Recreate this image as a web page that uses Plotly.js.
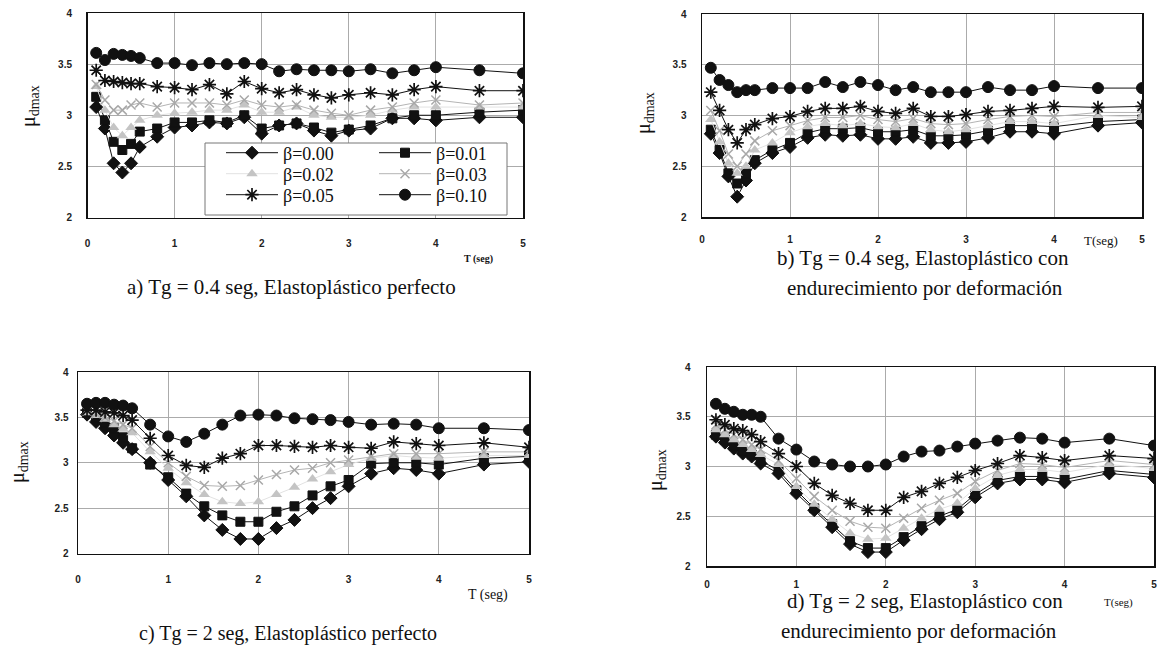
<!DOCTYPE html>
<html>
<head>
<meta charset="utf-8">
<script src="https://cdn.plot.ly/plotly-3.0.1.min.js"></script>
<style>html,body{margin:0;padding:0;background:#fff;}#chart{width:1161px;height:647px;}</style>
</head>
<body>
<div id="chart"></div>
<script>
// ---------------- DATA ----------------
const T = [0.1, 0.2, 0.3, 0.4, 0.5, 0.6, 0.8, 1.0, 1.2, 1.4, 1.6, 1.8, 2.0, 2.2, 2.4, 2.6, 2.8, 3.0, 3.25, 3.5, 3.75, 4.0, 4.5, 5.0];
const betaLabels = ["β=0.00", "β=0.01", "β=0.02", "β=0.03", "β=0.05", "β=0.10"];
const xTicks = [0, 1, 2, 3, 4, 5];
const yTicks = [2, 2.5, 3, 3.5, 4];

// a) Tg = 0.4 s, elastoplástico perfecto
const a_b000 = [3.08, 2.87, 2.53, 2.44, 2.53, 2.69, 2.79, 2.88, 2.90, 2.93, 2.92, 2.98, 2.82, 2.90, 2.92, 2.85, 2.80, 2.85, 2.87, 2.97, 2.97, 2.95, 2.98, 2.98];
const a_b001 = [3.18, 2.95, 2.74, 2.66, 2.72, 2.84, 2.87, 2.93, 2.93, 2.95, 2.93, 3.00, 2.87, 2.90, 2.92, 2.88, 2.83, 2.86, 2.90, 2.97, 3.00, 3.00, 3.03, 3.05];
const a_b002 = [3.28, 3.05, 2.88, 2.80, 2.88, 2.95, 3.00, 3.02, 3.03, 3.05, 3.05, 3.10, 3.03, 3.03, 3.08, 3.00, 2.98, 2.98, 3.00, 3.05, 3.08, 3.08, 3.08, 3.08];
const a_b003 = [3.30, 3.15, 3.05, 3.05, 3.10, 3.12, 3.08, 3.12, 3.12, 3.12, 3.10, 3.15, 3.10, 3.08, 3.10, 3.05, 3.02, 3.00, 3.05, 3.08, 3.12, 3.15, 3.10, 3.12];
const a_b005 = [3.44, 3.34, 3.33, 3.32, 3.31, 3.31, 3.28, 3.27, 3.25, 3.30, 3.21, 3.33, 3.26, 3.22, 3.25, 3.20, 3.17, 3.20, 3.22, 3.20, 3.25, 3.28, 3.24, 3.24];
const a_b010 = [3.61, 3.54, 3.60, 3.59, 3.58, 3.56, 3.51, 3.51, 3.49, 3.51, 3.50, 3.51, 3.50, 3.43, 3.45, 3.44, 3.44, 3.43, 3.45, 3.41, 3.44, 3.47, 3.44, 3.41];

// b) Tg = 0.4 s, con endurecimiento
const b_b000 = [2.82, 2.63, 2.40, 2.20, 2.36, 2.53, 2.63, 2.69, 2.78, 2.81, 2.80, 2.81, 2.77, 2.77, 2.79, 2.73, 2.73, 2.74, 2.78, 2.84, 2.84, 2.82, 2.90, 2.93];
const b_b001 = [2.86, 2.66, 2.43, 2.33, 2.43, 2.56, 2.66, 2.73, 2.83, 2.87, 2.87, 2.88, 2.84, 2.84, 2.86, 2.80, 2.80, 2.81, 2.85, 2.90, 2.90, 2.89, 2.94, 2.96];
const b_b002 = [2.96, 2.74, 2.53, 2.43, 2.50, 2.66, 2.73, 2.83, 2.89, 2.92, 2.90, 2.92, 2.89, 2.88, 2.92, 2.86, 2.84, 2.86, 2.90, 2.94, 2.94, 2.92, 3.00, 2.98];
const b_b003 = [3.05, 2.85, 2.62, 2.50, 2.62, 2.75, 2.85, 2.90, 2.95, 2.98, 2.98, 3.00, 2.96, 2.94, 2.97, 2.92, 2.91, 2.92, 2.96, 2.99, 3.00, 2.99, 3.03, 3.03];
const b_b005 = [3.23, 3.05, 2.86, 2.73, 2.86, 2.91, 2.97, 2.99, 3.04, 3.07, 3.07, 3.09, 3.04, 3.02, 3.07, 2.99, 2.99, 3.01, 3.04, 3.05, 3.07, 3.09, 3.08, 3.09];
const b_b010 = [3.47, 3.35, 3.30, 3.23, 3.25, 3.25, 3.27, 3.27, 3.27, 3.33, 3.28, 3.33, 3.30, 3.25, 3.28, 3.23, 3.23, 3.23, 3.28, 3.25, 3.25, 3.29, 3.27, 3.27];

// c) Tg = 2 s, elastoplástico perfecto
const c_b000 = [3.53, 3.45, 3.38, 3.30, 3.22, 3.15, 3.00, 2.81, 2.63, 2.42, 2.26, 2.16, 2.16, 2.28, 2.37, 2.50, 2.61, 2.74, 2.88, 2.94, 2.92, 2.88, 2.98, 3.01];
const c_b001 = [3.55, 3.50, 3.44, 3.38, 3.28, 3.16, 2.98, 2.84, 2.66, 2.52, 2.42, 2.35, 2.35, 2.46, 2.52, 2.64, 2.74, 2.81, 2.99, 3.00, 3.00, 2.98, 3.05, 3.07];
const c_b002 = [3.55, 3.52, 3.48, 3.42, 3.37, 3.33, 3.12, 2.94, 2.78, 2.65, 2.57, 2.55, 2.57, 2.65, 2.73, 2.82, 2.90, 2.98, 3.05, 3.08, 3.06, 3.05, 3.08, 3.08];
const c_b003 = [3.57, 3.54, 3.50, 3.46, 3.42, 3.38, 3.18, 3.00, 2.85, 2.75, 2.74, 2.75, 2.81, 2.87, 2.92, 2.94, 3.00, 3.03, 3.07, 3.10, 3.10, 3.10, 3.12, 3.12];
const c_b005 = [3.58, 3.58, 3.56, 3.55, 3.52, 3.47, 3.27, 3.08, 2.97, 2.95, 3.05, 3.10, 3.19, 3.19, 3.18, 3.17, 3.19, 3.17, 3.16, 3.23, 3.21, 3.19, 3.22, 3.17];
const c_b010 = [3.65, 3.66, 3.66, 3.64, 3.63, 3.60, 3.42, 3.29, 3.23, 3.32, 3.42, 3.52, 3.53, 3.52, 3.49, 3.48, 3.47, 3.45, 3.42, 3.43, 3.42, 3.38, 3.38, 3.36];

// d) Tg = 2 s, con endurecimiento
const d_b000 = [3.30, 3.24, 3.18, 3.13, 3.10, 3.03, 2.93, 2.73, 2.56, 2.39, 2.22, 2.14, 2.14, 2.26, 2.37, 2.47, 2.54, 2.69, 2.83, 2.87, 2.87, 2.84, 2.93, 2.89];
const d_b001 = [3.32, 3.27, 3.21, 3.16, 3.12, 3.06, 2.96, 2.76, 2.58, 2.42, 2.25, 2.18, 2.18, 2.29, 2.40, 2.50, 2.57, 2.72, 2.86, 2.90, 2.90, 2.87, 2.96, 2.92];
const d_b002 = [3.37, 3.32, 3.27, 3.22, 3.17, 3.12, 3.02, 2.80, 2.62, 2.47, 2.33, 2.27, 2.28, 2.38, 2.48, 2.57, 2.63, 2.78, 2.91, 2.97, 2.97, 2.94, 3.02, 2.98];
const d_b003 = [3.42, 3.37, 3.32, 3.27, 3.22, 3.17, 3.06, 2.88, 2.70, 2.56, 2.45, 2.39, 2.38, 2.48, 2.58, 2.66, 2.73, 2.85, 2.96, 3.03, 3.02, 2.99, 3.06, 3.02];
const d_b005 = [3.47, 3.42, 3.38, 3.36, 3.32, 3.25, 3.13, 3.00, 2.83, 2.71, 2.63, 2.56, 2.56, 2.69, 2.75, 2.83, 2.89, 2.96, 3.03, 3.11, 3.09, 3.06, 3.11, 3.08];
const d_b010 = [3.63, 3.58, 3.55, 3.52, 3.52, 3.50, 3.28, 3.17, 3.05, 3.02, 3.00, 3.00, 3.02, 3.10, 3.15, 3.16, 3.20, 3.23, 3.26, 3.29, 3.28, 3.24, 3.28, 3.21];

const captionsLine1 = ["a) Tg = 0.4 seg, Elastoplástico perfecto", "b) Tg = 0.4 seg, Elastoplástico con", "c) Tg = 2 seg, Elastoplástico perfecto", "d) Tg = 2 seg, Elastoplástico con"];
const captionsLine2 = ["", "endurecimiento por deformación", "", "endurecimiento por deformación"];
const xTitle = ["T (seg)", "T(seg)", "T (seg)", "T(seg)"];
const yTitle = "μ<sub>dmax</sub>";

// ---------------- STYLES ----------------
const W = 1161, H = 647;
const PX = v => v / W;
const PY = v => 1 - v / H;

const styles = [
  {symbol: 'diamond', size: 10, color: '#111', lineColor: '#111', mline: {color: '#111', width: 1}},
  {symbol: 'square', size: 9, color: '#111', lineColor: '#111', mline: {color: '#111', width: 1}},
  {symbol: 'triangle-up', size: 10, color: '#c4c4c4', lineColor: '#e2e2e2', mline: {color: '#c4c4c4', width: 0}},
  {symbol: 'x-thin-open', size: 9, color: '#a8a8a8', lineColor: '#b4b4b4', mline: {color: '#a8a8a8', width: 1.5}},
  {symbol: 'asterisk-open', size: 11, color: '#111', lineColor: '#111', mline: {color: '#111', width: 1.7}},
  {symbol: 'circle', size: 11, color: '#111', lineColor: '#111', mline: {color: '#111', width: 1}}
];
// legend slot per series: [left px, row center px]
const legendSlots = [[221, 153], [374, 153], [221, 174], [374, 174], [221, 195], [374, 195]];

// plot boxes in pixels: [left, right, top, bottom]
const boxes = [
  [87.5, 523, 13, 217.5],
  [702, 1142, 14, 217],
  [78, 529, 372, 553.5],
  [707, 1154, 367, 566]
];
const xStandoff = [16, 12, 16, 8];
const yStandoff = [12, 12, 6, 13];

const panelData = [
  [a_b000, a_b001, a_b002, a_b003, a_b005, a_b010],
  [b_b000, b_b001, b_b002, b_b003, b_b005, b_b010],
  [c_b000, c_b001, c_b002, c_b003, c_b005, c_b010],
  [d_b000, d_b001, d_b002, d_b003, d_b005, d_b010]
];

const traces = [];
panelData.forEach((series, p) => {
  const sfx = p === 0 ? '' : String(p + 1);
  series.forEach((ys, i) => {
    const s = styles[i];
    traces.push({
      type: 'scatter', mode: 'lines+markers',
      x: T, y: ys, name: betaLabels[i],
      xaxis: 'x' + sfx, yaxis: 'y' + sfx,
      showlegend: p === 0, legend: i === 0 ? 'legend' : 'legend' + (i + 1),
      line: {color: s.lineColor, width: 1},
      marker: {symbol: s.symbol, size: s.size, color: s.color, line: s.mline},
      hoverinfo: 'skip'
    });
  });
});

const tickFont = {family: 'Liberation Sans, Arial, sans-serif', size: 10, weight: 'bold', color: '#222'};
const layout = {
  width: W, height: H,
  margin: {l: 0, r: 0, t: 0, b: 0},
  paper_bgcolor: '#fff', plot_bgcolor: '#fff',
  font: {family: 'Liberation Serif, Times New Roman, serif', color: '#111'},
  showlegend: true,
  shapes: [],
  annotations: []
};
legendSlots.forEach((sl, i) => {
  layout[i === 0 ? 'legend' : 'legend' + (i + 1)] = {
    x: PX(sl[0]), y: PY(sl[1]), xanchor: 'left', yanchor: 'middle',
    bgcolor: 'rgba(0,0,0,0)', borderwidth: 0,
    font: {family: 'Liberation Serif, serif', size: 18, color: '#111'},
    itemwidth: 52, tracegroupgap: 0
  };
});

boxes.forEach((b, p) => {
  const sfx = p === 0 ? '' : String(p + 1);
  layout['xaxis' + sfx] = {
    domain: [PX(b[0]), PX(b[1])], anchor: 'y' + sfx, range: [0, 5],
    tickmode: 'array', tickvals: xTicks, ticktext: xTicks.map(String),
    showgrid: true, gridcolor: '#ababab', gridwidth: 1, zeroline: false,
    showline: true, mirror: true, linecolor: '#111', linewidth: 1.5,
    ticks: '', tickfont: tickFont, ticklabelstandoff: xStandoff[p], fixedrange: true
  };
  layout['yaxis' + sfx] = {
    domain: [PY(b[3]), PY(b[2])], anchor: 'x' + sfx, range: [2, 4],
    tickmode: 'array', tickvals: yTicks, ticktext: yTicks.map(String),
    showgrid: true, gridcolor: '#ababab', gridwidth: 1, zeroline: false,
    showline: true, mirror: true, linecolor: '#111', linewidth: 1.5,
    ticks: '', tickfont: tickFont, ticklabelstandoff: yStandoff[p], fixedrange: true
  };
});

// legend box inside panel a (converted from pixel frame to data units of panel a)
const bA = boxes[0];
const toXa = px => (px - bA[0]) / (bA[1] - bA[0]) * 5;
const toYa = py => 4 - (py - bA[2]) / (bA[3] - bA[2]) * 2;
layout.shapes.push({
  type: 'rect', xref: 'x', yref: 'y', layer: 'between',
  x0: toXa(205), x1: toXa(507), y0: toYa(215), y1: toYa(143),
  fillcolor: '#ffffff', line: {color: '#777', width: 1}
});

const serif = 'Liberation Serif, Times New Roman, serif';
function ann(text, x, y, size, extra) {
  layout.annotations.push(Object.assign({
    text: text, x: PX(x), y: PY(y), xref: 'paper', yref: 'paper',
    xanchor: 'center', yanchor: 'middle', showarrow: false,
    font: {family: serif, size: size, color: '#111'}
  }, extra || {}));
}
// captions
ann(captionsLine1[0], 291, 287, 21);
ann(captionsLine1[1], 923, 258, 21);
ann(captionsLine2[1], 925, 288, 21);
ann(captionsLine1[2], 288, 633, 20);
ann(captionsLine1[3], 925, 601, 21);
ann(captionsLine2[3], 919, 631, 21);
// x titles
ann(xTitle[0], 478, 259, 10, {font: {family: serif, size: 10, weight: 'bold', color: '#111'}});
ann(xTitle[1], 1101, 240, 13);
ann(xTitle[2], 488, 595, 14);
ann(xTitle[3], 1118, 602, 11);
// y titles
ann(yTitle, 30, 106, 20, {textangle: -90});
ann(yTitle, 645, 113, 20, {textangle: -90});
ann(yTitle, 18, 462, 20, {textangle: -90});
ann(yTitle, 656, 470, 20, {textangle: -90});

Plotly.newPlot('chart', traces, layout, {staticPlot: true, displayModeBar: false});
</script>
</body>
</html>
